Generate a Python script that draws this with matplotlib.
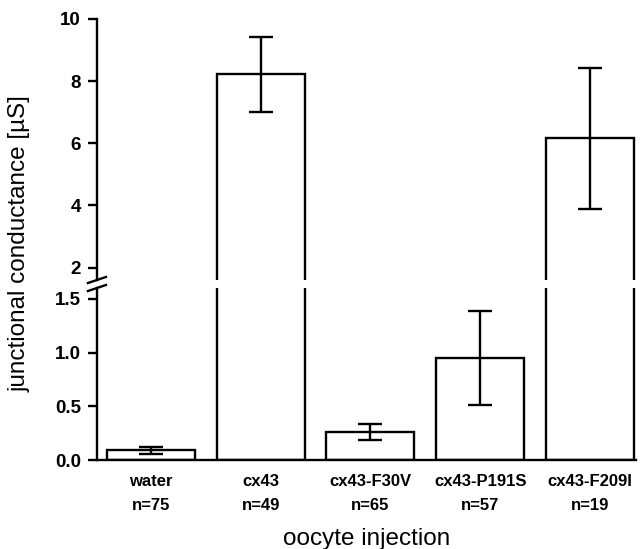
import numpy as np
import matplotlib
matplotlib.use("Agg")
import matplotlib.pyplot as plt

plt.rcParams['font.family'] = ['Liberation Sans', 'DejaVu Sans']

# data
groups = ['water', 'cx43', 'cx43-F30V', 'cx43-P191S', 'cx43-F209I']
counts = [75, 49, 65, 57, 19]
conductance = [0.09, 8.22, 0.26, 0.95, 6.16]
sem = [0.03, 1.2, 0.078, 0.44, 2.27]

x = np.arange(len(groups))
labels = [f'{g}\nn={n}' for g, n in zip(groups, counts)]

fig = plt.figure(figsize=(6.42, 5.49), dpi=100)
ax_top = fig.add_axes([0.151, 0.490, 0.840, 0.4754])
ax_bot = fig.add_axes([0.151, 0.1621, 0.840, 0.3133])

for ax in (ax_top, ax_bot):
    ax.bar(x, conductance, width=0.8, facecolor='white', edgecolor='black', linewidth=1.7)
    ax.errorbar(x, conductance, yerr=sem, fmt='none', ecolor='black',
                elinewidth=1.7, capsize=8.5, capthick=1.7)
    ax.set_xlim(-0.49, 4.42)
    for s in ('top', 'right'):
        ax.spines[s].set_visible(False)
    ax.spines['left'].set_linewidth(1.7)
    ax.spines['bottom'].set_linewidth(1.7)
    ax.tick_params(axis='y', direction='out', length=6.5, width=1.7, labelsize=13.5, pad=5)

ax_top.set_ylim(1.6, 10)
ax_top.set_yticks([2, 4, 6, 8, 10])
ax_top.set_yticklabels(['2', '4', '6', '8', '10'], fontweight='bold')
ax_top.spines['bottom'].set_visible(False)
ax_top.set_xticks([])

ax_bot.set_ylim(0, 1.6)
ax_bot.set_yticks([0.0, 0.5, 1.0, 1.5])
ax_bot.set_yticklabels(['0.0', '0.5', '1.0', '1.5'], fontweight='bold')
ax_bot.set_xticks(x)
ax_bot.set_xticklabels(labels, fontweight='bold', fontsize=12, linespacing=1.75)
ax_bot.tick_params(axis='x', length=0, pad=10)
ax_bot.set_xlabel('oocyte injection', fontsize=17.5, labelpad=11)

# axis break marks on the left spine
x0 = 0.151
for yb in (0.490, 0.4754):
    fig.add_artist(plt.Line2D([x0 - 0.014, x0 + 0.014], [yb - 0.0055, yb + 0.0055],
                              color='black', linewidth=1.7))

fig.text(0.031, 0.556, 'junctional conductance [µS]', rotation=90,
         ha='center', va='center', fontsize=17.5)

fig.savefig('out.png', dpi=100)
